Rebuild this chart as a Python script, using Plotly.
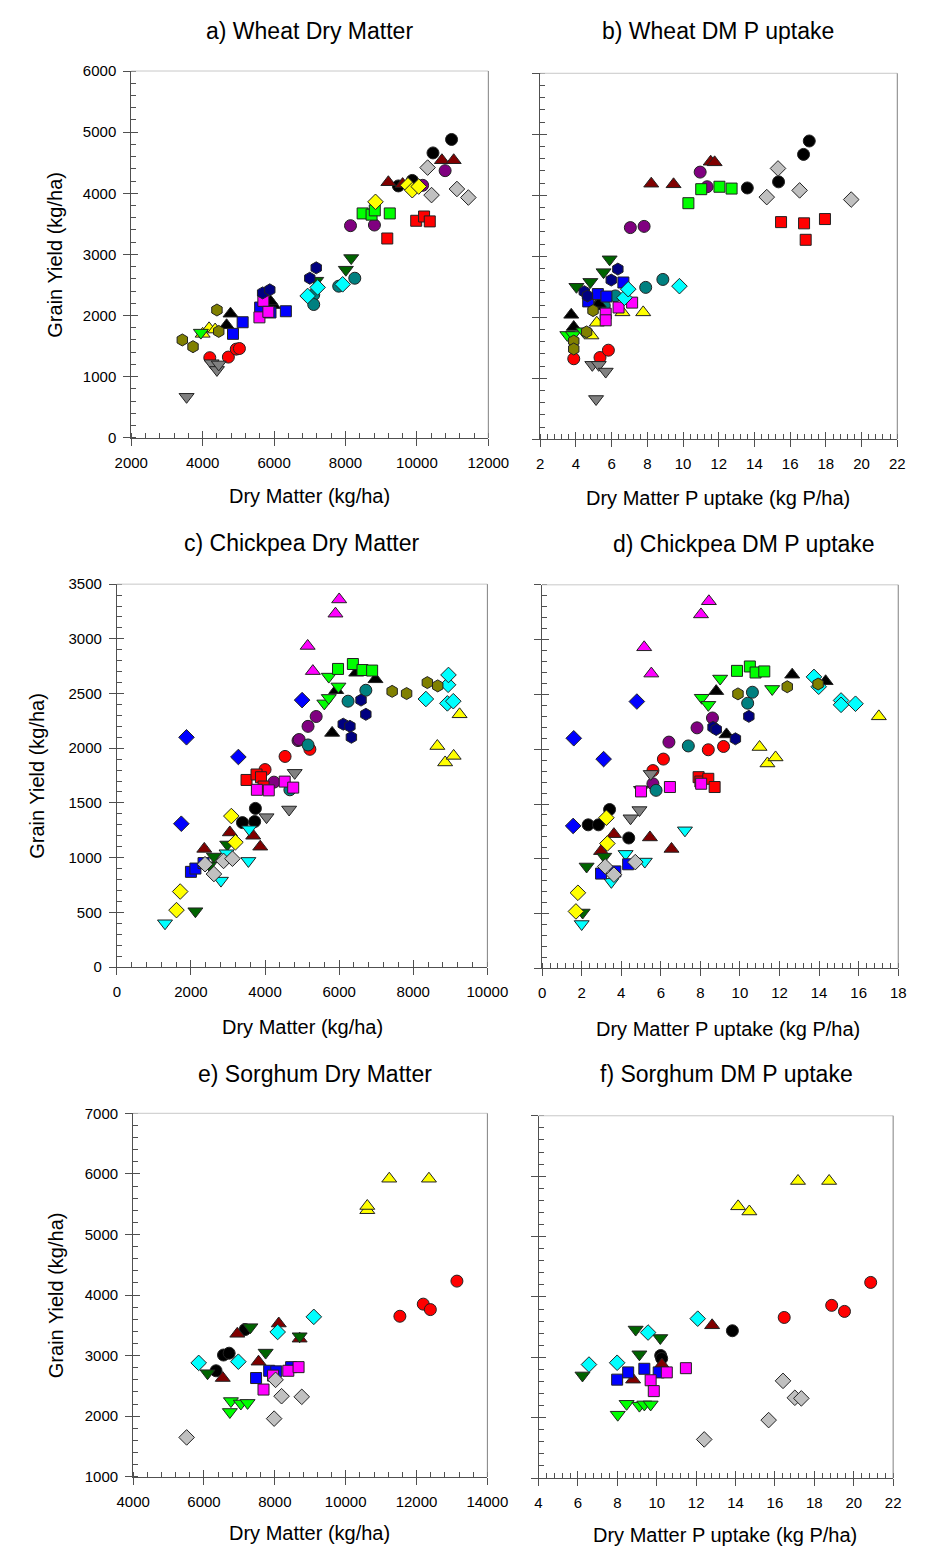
import plotly.graph_objects as go

W, H = 949, 1556

# ---------------- marker styles (symbol, fill colour, size) ----------------
STYLE = {
    'black_circle': ('circle', '#000000', 12),
    'red_circle': ('circle', '#FF0000', 12),
    'purple_circle': ('circle', '#800080', 12),
    'teal_circle': ('circle', '#008080', 12),
    'black_tri': ('triangle-up', '#000000', 13),
    'maroon_tri': ('triangle-up', '#800000', 13),
    'yellow_tri': ('triangle-up', '#FFFF00', 13),
    'magenta_tri': ('triangle-up', '#FF00FF', 13),
    'dkgreen_tridn': ('triangle-down', '#006400', 13),
    'lime_tridn': ('triangle-down', '#00FF00', 13),
    'gray_tridn': ('triangle-down', '#808080', 13),
    'cyan_tridn': ('triangle-down', '#00FFFF', 13),
    'blue_square': ('square', '#0000FF', 11),
    'red_square': ('square', '#FF0000', 11),
    'magenta_square': ('square', '#FF00FF', 11),
    'lime_square': ('square', '#00FF00', 11),
    'yellow_diamond': ('diamond', '#FFFF00', 12),
    'silver_diamond': ('diamond', '#C0C0C0', 12),
    'cyan_diamond': ('diamond', '#00FFFF', 12),
    'blue_diamond': ('diamond', '#0000FF', 12),
    'navy_hex': ('hexagon', '#000080', 12),
    'olive_hex': ('hexagon', '#808000', 12),
}

# ---------------- a) Wheat Dry Matter ----------------
a_black_circle_x = [9480, 9870, 10450, 10970]
a_black_circle_y = [4120, 4210, 4660, 4880]
a_red_circle_x = [4200, 4720, 4940, 5030]
a_red_circle_y = [1310, 1320, 1450, 1460]
a_purple_circle_x = [8140, 8810, 10160, 10790]
a_purple_circle_y = [3470, 3480, 4130, 4370]
a_teal_circle_x = [7110, 7110, 7810, 8260]
a_teal_circle_y = [2340, 2180, 2480, 2610]
a_black_tri_x = [4670, 4780, 5970, 5900]
a_black_tri_y = [1840, 2030, 2170, 2230]
a_maroon_tri_x = [9200, 9600, 10700, 11030]
a_maroon_tri_y = [4180, 4150, 4540, 4540]
a_yellow_tri_x = [4000, 4180, 4350]
a_yellow_tri_y = [1700, 1790, 1770]
a_dkgreen_tridn_x = [7180, 8010, 8160]
a_dkgreen_tridn_y = [2570, 2750, 2940]
a_lime_tridn_x = [3950]
a_lime_tridn_y = [1720]
a_gray_tridn_x = [3550, 4250, 4400, 4450]
a_gray_tridn_y = [670, 1220, 1110, 1200]
a_blue_square_x = [4850, 5120, 5610, 5900, 6330]
a_blue_square_y = [1700, 1890, 2130, 2050, 2070]
a_red_square_x = [9170, 9980, 10200, 10360]
a_red_square_y = [3260, 3550, 3620, 3540]
a_magenta_square_x = [5590, 5700, 5840]
a_magenta_square_y = [1970, 2240, 2060]
a_lime_square_x = [8480, 8730, 8820, 9240]
a_lime_square_y = [3670, 3650, 3720, 3670]
a_yellow_diamond_x = [8840, 9750, 9870, 10050]
a_yellow_diamond_y = [3860, 4130, 4050, 4110]
a_silver_diamond_x = [10300, 10410, 11120, 11440]
a_silver_diamond_y = [4420, 3970, 4070, 3930]
a_cyan_diamond_x = [6940, 7220, 7920]
a_cyan_diamond_y = [2320, 2460, 2510]
a_navy_hex_x = [5680, 5880, 7000, 7180]
a_navy_hex_y = [2370, 2420, 2610, 2780]
a_olive_hex_x = [3430, 3730, 4400, 4450]
a_olive_hex_y = [1600, 1490, 2090, 1740]

# ---------------- b) Wheat DM P uptake ----------------
b_black_circle_x = [13.6, 15.35, 16.75, 17.07]
b_black_circle_y = [4120, 4220, 4670, 4890]
b_red_circle_x = [3.88, 5.35, 5.82]
b_red_circle_y = [1320, 1340, 1460]
b_purple_circle_x = [7.05, 7.82, 10.96, 11.35]
b_purple_circle_y = [3470, 3490, 4380, 4140]
b_teal_circle_x = [5.59, 6.21, 7.91, 8.87]
b_teal_circle_y = [2190, 2350, 2490, 2620]
b_black_tri_x = [3.74, 3.88, 5.1, 5.28]
b_black_tri_y = [2040, 1840, 2180, 2220]
b_maroon_tri_x = [8.22, 9.47, 11.55, 11.77]
b_maroon_tri_y = [4190, 4180, 4550, 4540]
b_yellow_tri_x = [4.87, 5.17, 6.61, 7.77]
b_yellow_tri_y = [1700, 1910, 2080, 2080]
b_dkgreen_tridn_x = [4.03, 4.81, 5.55, 5.89]
b_dkgreen_tridn_y = [2500, 2580, 2740, 2950]
b_lime_tridn_x = [3.52, 3.84, 4.42]
b_lime_tridn_y = [1710, 1710, 1770]
b_gray_tridn_x = [4.92, 5.28, 5.67, 5.13]
b_gray_tridn_y = [1220, 1220, 1110, 660]
b_blue_square_x = [4.69, 5.23, 5.71, 6.66]
b_blue_square_y = [2260, 2380, 2340, 2570]
b_red_square_x = [15.49, 16.78, 16.87, 17.95]
b_red_square_y = [3560, 3540, 3270, 3610]
b_magenta_square_x = [5.67, 5.67, 6.39, 7.15]
b_magenta_square_y = [2060, 1950, 2160, 2240]
b_lime_square_x = [10.3, 11.02, 12.04, 12.72]
b_lime_square_y = [3870, 4100, 4140, 4110]
b_silver_diamond_x = [14.69, 15.32, 16.53, 19.42]
b_silver_diamond_y = [3970, 4440, 4080, 3930]
b_cyan_diamond_x = [6.72, 6.93, 9.8]
b_cyan_diamond_y = [2320, 2460, 2510]
b_navy_hex_x = [4.47, 4.65, 5.98, 6.35]
b_navy_hex_y = [2420, 2350, 2610, 2790]
b_olive_hex_x = [3.88, 3.88, 4.6, 4.96]
b_olive_hex_y = [1610, 1480, 1760, 2110]

# ---------------- c) Chickpea Dry Matter ----------------
c_black_circle_x = [3390, 3720, 3740]
c_black_circle_y = [1320, 1330, 1450]
c_red_circle_x = [4000, 4540, 5210]
c_red_circle_y = [1805, 1925, 1990]
c_purple_circle_x = [4240, 4890, 4920, 5160, 5380]
c_purple_circle_y = [1690, 2070, 2080, 2200, 2290]
c_teal_circle_x = [4670, 5160, 6240, 6720]
c_teal_circle_y = [1620, 2030, 2430, 2530]
c_black_tri_x = [5810, 5920, 6460, 6980]
c_black_tri_y = [2140, 2530, 2690, 2630]
c_maroon_tri_x = [2360, 3050, 3680, 3870]
c_maroon_tri_y = [1080, 1230, 1200, 1100]
c_yellow_tri_x = [8650, 8860, 9090, 9250]
c_yellow_tri_y = [2020, 1870, 1930, 2310]
c_magenta_tri_x = [5150, 5290, 5900, 6000]
c_magenta_tri_y = [2935, 2705, 3230, 3360]
c_dkgreen_tridn_x = [2120, 2500, 2620, 2980]
c_dkgreen_tridn_y = [510, 930, 1010, 1120]
c_lime_tridn_x = [5600, 5720, 5720, 5980]
c_lime_tridn_y = [2410, 2460, 2655, 2565]
c_gray_tridn_x = [4040, 4650, 4800]
c_gray_tridn_y = [1370, 1440, 1775]
c_cyan_tridn_x = [1300, 2810, 2960, 3550, 3570]
c_cyan_tridn_y = [400, 790, 1040, 970, 1260]
c_blue_square_x = [2000, 2120, 2340]
c_blue_square_y = [870, 900, 950]
c_red_square_x = [3500, 3770, 3890, 3960]
c_red_square_y = [1710, 1760, 1735, 1650]
c_magenta_square_x = [3780, 4100, 4530, 4760]
c_magenta_square_y = [1620, 1615, 1695, 1640]
c_lime_square_x = [5970, 6370, 6630, 6890]
c_lime_square_y = [2725, 2770, 2715, 2710]
c_yellow_diamond_x = [1610, 1710, 3090, 3200]
c_yellow_diamond_y = [520, 690, 1380, 1140]
c_silver_diamond_x = [2380, 2620, 2880, 3120]
c_silver_diamond_y = [940, 850, 970, 990]
c_cyan_diamond_x = [8340, 8920, 8940, 8950, 9080]
c_cyan_diamond_y = [2450, 2410, 2580, 2670, 2430]
c_blue_diamond_x = [1740, 1880, 3280, 5000]
c_blue_diamond_y = [1310, 2100, 1920, 2440]
c_navy_hex_x = [6110, 6290, 6330, 6590, 6720]
c_navy_hex_y = [2220, 2200, 2100, 2440, 2310]
c_olive_hex_x = [7430, 7820, 8380, 8660]
c_olive_hex_y = [2520, 2500, 2600, 2570]

# ---------------- d) Chickpea DM P uptake ----------------
d_black_circle_x = [2.33, 2.85, 3.41, 4.38]
d_black_circle_y = [1310, 1310, 1450, 1190]
d_red_circle_x = [5.60, 6.13, 8.40, 9.17]
d_red_circle_y = [1805, 1910, 1995, 2025]
d_purple_circle_x = [5.60, 6.41, 7.83, 8.61]
d_purple_circle_y = [1685, 2065, 2195, 2285]
d_teal_circle_x = [5.76, 7.39, 10.39, 10.63]
d_teal_circle_y = [1625, 2030, 2420, 2520]
d_black_tri_x = [8.80, 9.32, 12.64, 14.33]
d_black_tri_y = [2530, 2135, 2680, 2620]
d_maroon_tri_x = [2.98, 3.63, 5.45, 6.54]
d_maroon_tri_y = [1070, 1225, 1195, 1090]
d_yellow_tri_x = [10.99, 11.39, 11.80, 17.02]
d_yellow_tri_y = [2020, 1870, 1925, 2300]
d_magenta_tri_x = [5.16, 5.52, 8.03, 8.43]
d_magenta_tri_y = [2930, 2690, 3230, 3350]
d_dkgreen_tridn_x = [2.05, 2.25, 3.14]
d_dkgreen_tridn_y = [510, 930, 1020]
d_lime_tridn_x = [8.07, 8.40, 9.0, 11.63]
d_lime_tridn_y = [2470, 2405, 2645, 2550]
d_gray_tridn_x = [4.47, 4.92, 5.0, 5.49]
d_gray_tridn_y = [1370, 1445, 1630, 1775]
d_cyan_tridn_x = [2.0, 3.5, 4.22, 5.19, 7.22]
d_cyan_tridn_y = [405, 790, 1045, 975, 1260]
d_blue_square_x = [2.98, 3.70, 4.35]
d_blue_square_y = [865, 885, 950]
d_red_square_x = [7.91, 8.0, 8.40, 8.72]
d_red_square_y = [1745, 1705, 1730, 1655]
d_magenta_square_x = [5.0, 6.46, 8.04]
d_magenta_square_y = [1615, 1655, 1685]
d_lime_square_x = [9.85, 10.5, 10.79, 11.23]
d_lime_square_y = [2715, 2755, 2700, 2710]
d_yellow_diamond_x = [1.71, 1.81, 3.25, 3.30]
d_yellow_diamond_y = [520, 690, 1375, 1140]
d_silver_diamond_x = [3.19, 3.63, 4.71]
d_silver_diamond_y = [930, 855, 970]
d_cyan_diamond_x = [13.74, 13.98, 15.11, 15.11, 15.84]
d_cyan_diamond_y = [2660, 2570, 2445, 2405, 2415]
d_blue_diamond_x = [1.57, 1.60, 3.11, 4.79]
d_blue_diamond_y = [1300, 2100, 1910, 2435]
d_navy_hex_x = [8.64, 8.80, 9.77, 10.45]
d_navy_hex_y = [2200, 2180, 2095, 2300]
d_olive_hex_x = [9.90, 12.39, 13.95]
d_olive_hex_y = [2505, 2570, 2595]

# ---------------- e) Sorghum Dry Matter ----------------
e_black_circle_x = [6340, 6550, 6710, 7160]
e_black_circle_y = [2750, 3010, 3040, 3430]
e_red_circle_x = [11530, 12190, 12390, 13140]
e_red_circle_y = [3650, 3850, 3760, 4230]
e_maroon_tri_x = [6530, 6940, 7540, 8110, 8700]
e_maroon_tri_y = [2630, 3360, 2900, 3530, 3280]
e_yellow_tri_x = [10610, 10610, 11230, 12350]
e_yellow_tri_y = [5400, 5470, 5920, 5920]
e_dkgreen_tridn_x = [6100, 7310, 7740, 8700]
e_dkgreen_tridn_y = [2710, 3470, 3050, 3320]
e_lime_tridn_x = [6730, 6760, 7040, 7230]
e_lime_tridn_y = [2070, 2250, 2210, 2220]
e_blue_square_x = [7470, 7840, 8040, 8460]
e_blue_square_y = [2630, 2750, 2740, 2810]
e_magenta_square_x = [7680, 7950, 8380, 8670]
e_magenta_square_y = [2440, 2670, 2750, 2810]
e_silver_diamond_x = [5510, 7980, 8020, 8190, 8760]
e_silver_diamond_y = [1650, 1960, 2600, 2330, 2320]
e_cyan_diamond_x = [5850, 6970, 8080, 9100]
e_cyan_diamond_y = [2880, 2900, 3390, 3640]

# ---------------- f) Sorghum DM P uptake ----------------
f_black_circle_x = [10.2, 10.25, 13.84]
f_black_circle_y = [3030, 2980, 3440]
f_red_circle_x = [16.47, 18.88, 19.53, 20.86]
f_red_circle_y = [3660, 3860, 3760, 4240]
f_maroon_tri_x = [8.80, 10.26, 12.81]
f_maroon_tri_y = [2630, 2880, 3530]
f_yellow_tri_x = [14.13, 14.70, 17.17, 18.75]
f_yellow_tri_y = [5500, 5415, 5920, 5920]
f_dkgreen_tridn_x = [6.23, 8.93, 9.12, 10.18]
f_dkgreen_tridn_y = [2700, 3460, 3050, 3320]
f_lime_tridn_x = [8.02, 8.47, 9.12, 9.37, 9.69]
f_lime_tridn_y = [2050, 2230, 2200, 2220, 2220]
f_blue_square_x = [7.99, 8.55, 9.37, 10.10]
f_blue_square_y = [2630, 2750, 2810, 2750]
f_magenta_square_x = [9.69, 9.85, 10.51, 11.48]
f_magenta_square_y = [2620, 2440, 2750, 2820]
f_silver_diamond_x = [12.41, 15.68, 16.41, 17.01, 17.34]
f_silver_diamond_y = [1640, 1960, 2610, 2330, 2320]
f_cyan_diamond_x = [6.56, 7.99, 9.56, 12.08]
f_cyan_diamond_y = [2880, 2910, 3410, 3640]

TITLES = ['a) Wheat Dry Matter', 'b) Wheat DM P uptake',
          'c) Chickpea Dry Matter', 'd) Chickpea DM P uptake',
          'e) Sorghum Dry Matter', 'f) Sorghum DM P uptake']
XTITLES = ['Dry Matter (kg/ha)', 'Dry Matter P uptake (kg P/ha)'] * 3
YTITLE = 'Grain Yield (kg/ha)'

# ---------------- layout geometry (pixels) ----------------
PANELS = [
    dict(key='a', xr=[2000, 12000], yr=[0, 6000], px=(119, 491), py=(433.5, 62.7),
         xdt=2000, xmn=400, ydt=1000, ymn=200, ylab=True,
         title=(305, 22), xt=(305, 492), yt=(40, 248)),
    dict(key='b', xr=[2, 22], yr=[0, 6000], px=(545, 917), py=(435, 65),
         xdt=2, xmn=0.4, ydt=1000, ymn=200, ylab=False,
         title=(730, 22), xt=(730, 494), yt=None),
    dict(key='c', xr=[0, 10000], yr=[0, 3500], px=(104, 490), py=(968.6, 581.5),
         xdt=2000, xmn=400, ydt=500, ymn=100, ylab=True,
         title=(297, 540), xt=(297, 1029), yt=(20, 775)),
    dict(key='d', xr=[0, 18], yr=[0, 3500], px=(547, 918), py=(970, 582.2),
         xdt=2, xmn=0.4, ydt=500, ymn=100, ylab=False,
         title=(757, 541), xt=(741, 1031), yt=None),
    dict(key='e', xr=[4000, 14000], yr=[1000, 7000], px=(121, 490), py=(1484, 1116.5),
         xdt=2000, xmn=400, ydt=1000, ymn=200, ylab=True,
         title=(310, 1077), xt=(305, 1541), yt=(40, 1300)),
    dict(key='f', xr=[4, 22], yr=[1000, 7000], px=(543.3, 912.7), py=(1485.3, 1119),
         xdt=2, xmn=0.4, ydt=1000, ymn=200, ylab=False,
         title=(739, 1077), xt=(738, 1543), yt=None),
]

FONT = 'Arial, Liberation Sans, sans-serif'
AXC = '#505050'
fig = go.Figure()
layout = dict(width=W, height=H, margin=dict(l=0, r=0, t=0, b=0),
              paper_bgcolor='white', plot_bgcolor='white', showlegend=False,
              font=dict(family=FONT, color='black'))
annotations = []
shapes = []
g = globals()

for i, p in enumerate(PANELS, start=1):
    xa = 'x' if i == 1 else f'x{i}'
    ya = 'y' if i == 1 else f'y{i}'
    xdom = [p['px'][0] / W, p['px'][1] / W]
    ydom = [1 - p['py'][0] / H, 1 - p['py'][1] / H]
    for name, (sym, col, sz) in STYLE.items():
        kx, ky = f"{p['key']}_{name}_x", f"{p['key']}_{name}_y"
        if kx not in g:
            continue
        fig.add_trace(go.Scatter(
            x=g[kx], y=g[ky], mode='markers', xaxis=xa, yaxis=ya,
            marker=dict(symbol=sym, color=col, size=sz,
                        line=dict(color='#222222', width=1)),
            hoverinfo='skip'))
    common = dict(showgrid=False, zeroline=False, showline=True, linecolor=AXC,
                  linewidth=1, ticks='outside', ticklen=7, tickcolor=AXC,
                  tickformat='d', ticklabelstandoff=4,
                  tickfont=dict(size=15, family=FONT, color='black'))
    layout['xaxis' if i == 1 else f'xaxis{i}'] = dict(
        common, domain=xdom, range=p['xr'], dtick=p['xdt'], tick0=p['xr'][0], anchor=ya,
        minor=dict(dtick=p['xmn'], tick0=p['xr'][0], ticks='inside', ticklen=5,
                   tickcolor=AXC, showgrid=False))
    layout['yaxis' if i == 1 else f'yaxis{i}'] = dict(
        common, domain=ydom, range=p['yr'], dtick=p['ydt'], tick0=p['yr'][0], anchor=xa,
        showticklabels=p['ylab'],
        minor=dict(dtick=p['ymn'], tick0=p['yr'][0], ticks='inside', ticklen=5,
                   tickcolor=AXC, showgrid=False))
    # overlay axes so the major ticks cross the axis line
    j = i + 6
    fig.add_trace(go.Scatter(x=[p['xr'][0]], y=[p['yr'][0]], mode='markers',
                             marker=dict(opacity=0), xaxis=f'x{j}', yaxis=f'y{j}',
                             hoverinfo='skip'))
    layout[f'xaxis{j}'] = dict(domain=xdom, range=p['xr'], dtick=p['xdt'], tick0=p['xr'][0],
                               anchor=f'y{j}', overlaying=xa, showgrid=False, zeroline=False,
                               showline=False, ticks='inside', ticklen=7, tickcolor=AXC,
                               showticklabels=False)
    layout[f'yaxis{j}'] = dict(domain=ydom, range=p['yr'], dtick=p['ydt'], tick0=p['yr'][0],
                               anchor=f'x{j}', overlaying=ya, showgrid=False, zeroline=False,
                               showline=False, ticks='inside', ticklen=7, tickcolor=AXC,
                               showticklabels=False)
    shapes.append(dict(type='line', xref='paper', yref='paper', x0=xdom[0], x1=xdom[1],
                       y0=ydom[1], y1=ydom[1], line=dict(color='#C8C8C8', width=1)))
    shapes.append(dict(type='line', xref='paper', yref='paper', x0=xdom[1], x1=xdom[1],
                       y0=ydom[0], y1=ydom[1], line=dict(color='#808080', width=1)))
    tx, ty = p['title']
    annotations.append(dict(text=TITLES[i - 1], x=tx / W, y=1 - ty / H, xref='paper', yref='paper',
                            xanchor='center', yanchor='middle', showarrow=False,
                            font=dict(size=23, family=FONT, color='black')))
    ax_, ay_ = p['xt']
    annotations.append(dict(text=XTITLES[i - 1], x=ax_ / W, y=1 - ay_ / H, xref='paper', yref='paper',
                            xanchor='center', yanchor='middle', showarrow=False,
                            font=dict(size=20, family=FONT, color='black')))
    if p['yt']:
        yx, yy = p['yt']
        annotations.append(dict(text=YTITLE, x=yx / W, y=1 - yy / H, xref='paper', yref='paper',
                                xanchor='center', yanchor='middle', showarrow=False, textangle=-90,
                                font=dict(size=20, family=FONT, color='black')))

layout['annotations'] = annotations
layout['shapes'] = shapes
fig.update_layout(**layout)
fig.write_html('out.html')
